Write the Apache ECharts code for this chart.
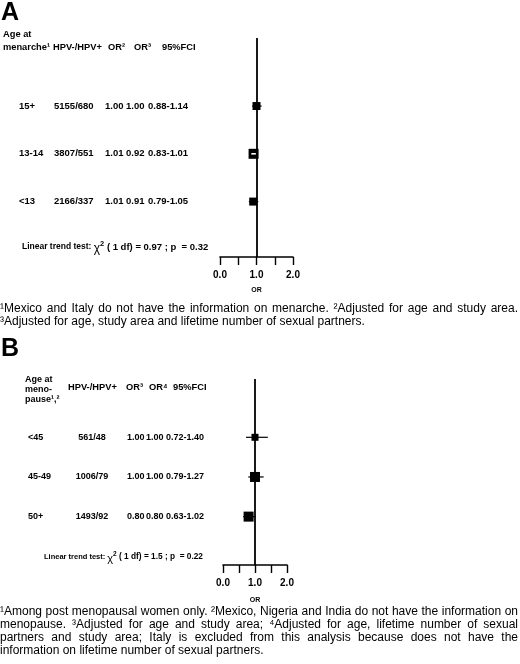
<!DOCTYPE html>
<html>
<head>
<meta charset="utf-8">
<script src="https://cdn.jsdelivr.net/npm/echarts@6/dist/echarts.min.js"></script>
<style>
html,body{margin:0;padding:0;background:#fff;}
#c{width:520px;height:664px;}
</style>
</head>
<body>
<div id="c"></div>
<script>
// ---------------- DATA ----------------
// Panel A: age at menarche
const catsA = ['15+', '13-14', '<13'];
const casesA = ['5155/680', '3807/551', '2166/337'];
const or2A = [1.00, 1.01, 1.01];
const or3A = [1.00, 0.92, 0.91];
const loA = [0.88, 0.83, 0.79];
const hiA = [1.14, 1.01, 1.05];
const trendA = { chi2: '0.97', df: '1', p: '0.32' };

// Panel B: age at menopause
const catsB = ['<45', '45-49', '50+'];
const casesB = ['561/48', '1006/79', '1493/92'];
const or3B = [1.00, 1.00, 0.80];
const or4B = [1.00, 1.00, 0.80];
const loB = [0.72, 0.79, 0.63];
const hiB = [1.40, 1.27, 1.02];
const trendB = { chi2: '1.5', df: '1', p: '0.22' };

// axis tick labels
const tickLabels = [0, 1, 2];
const axisMin = 0, axisMax = 2, tickStep = 0.5;

// ---------------- STYLE / LAYOUT ----------------
const markerSizeA = [8, 10, 8];
const markerSizeB = [7, 10, 10];
const FONT = '"Liberation Sans", Arial, Helvetica, sans-serif';

const chart = echarts.init(document.getElementById('c'), null, { renderer: 'canvas' });

function fmt2(v) { return v.toFixed(2); }

function buildSeriesData(orArr, loArr, hiArr) {
  return orArr.map((v, i) => [i, v, loArr[i], hiArr[i]]);
}

function makeRender(sizes) {
  return function (params, api) {
    const i = api.value(0), or = api.value(1), lo = api.value(2), hi = api.value(3);
    const c = api.coord([or, i]);
    const l = api.coord([lo, i]);
    const h = api.coord([hi, i]);
    const s = sizes[params.dataIndex];
    const half = s / 2;
    const inside = l[0] >= c[0] - half - 0.01 && h[0] <= c[0] + half + 0.01;
    const children = [];
    if (!inside) {
      children.push({ type: 'line', shape: { x1: l[0], y1: l[1], x2: h[0], y2: h[1] }, style: { stroke: '#000', lineWidth: 1.2 } });
    }
    children.push({ type: 'rect', shape: { x: c[0] - half, y: c[1] - half, width: s, height: s }, style: { fill: '#000' } });
    if (inside) {
      children.push({ type: 'line', shape: { x1: l[0] + 1, y1: l[1], x2: h[0] - 1, y2: h[1] }, style: { stroke: '#fff', lineWidth: 1.6 } });
    }
    return { type: 'group', children };
  };
}

function xAxisCfg(gi, nameGap) {
  return {
    gridIndex: gi, type: 'value', min: axisMin, max: axisMax, interval: tickStep,
    position: 'bottom',
    axisLine: { show: true, onZero: false, lineStyle: { color: '#000', width: 1.6 } },
    axisTick: { show: true, inside: false, length: 8, lineStyle: { color: '#000', width: 1.4 } },
    axisLabel: {
      show: true, margin: 13, color: '#000', fontFamily: FONT, fontSize: 10, fontWeight: 'bold',
      showMinLabel: true, showMaxLabel: true, hideOverlap: false,
      formatter: v => tickLabels.indexOf(v) >= 0 ? v.toFixed(1) : ''
    },
    splitLine: { show: false },
    name: 'OR', nameLocation: 'middle', nameGap: nameGap,
    nameTextStyle: { color: '#000', fontFamily: FONT, fontSize: 7, fontWeight: 'bold' }
  };
}

const refLine = {
  symbol: 'none', silent: true, animation: false,
  label: { show: false },
  lineStyle: { color: '#000', width: 1.8, type: 'solid' },
  data: [{ xAxis: 1 }]
};

chart.setOption({
  animation: false,
  backgroundColor: '#fff',
  grid: [
    { left: 220, top: 38, width: 73, height: 219 },
    { left: 223, top: 379, width: 64, height: 186 }
  ],
  xAxis: [xAxisCfg(0, 30), xAxisCfg(1, 32)],
  yAxis: [
    { gridIndex: 0, type: 'value', inverse: true, min: -1.424, max: 3.16, show: false },
    { gridIndex: 1, type: 'value', inverse: true, min: -1.47, max: 3.22, show: false }
  ],
  series: [
    {
      type: 'custom', xAxisIndex: 0, yAxisIndex: 0, silent: true,
      renderItem: makeRender(markerSizeA),
      data: buildSeriesData(or3A, loA, hiA),
      markLine: refLine, z: 3
    },
    {
      type: 'custom', xAxisIndex: 1, yAxisIndex: 1, silent: true,
      renderItem: makeRender(markerSizeB),
      data: buildSeriesData(or4B, loB, hiB),
      markLine: refLine, z: 3
    }
  ]
});

// ---------------- TEXT (table, notes) ----------------
const g = [];
const measureCtx = document.createElement('canvas').getContext('2d');
function fontStr(size, weight) { return (weight || 'normal') + ' ' + size + 'px ' + FONT; }
function txt(x, y, text, size, weight, align) {
  g.push({
    type: 'text', x: x, y: y, silent: true,
    style: {
      text: text, fill: '#000',
      font: fontStr(size, weight),
      textAlign: align || 'left', textVerticalAlign: 'middle',
      align: align || 'left', verticalAlign: 'middle'
    }
  });
}
function rowY(gi, i) { return chart.convertToPixel({ gridIndex: gi }, [1, i])[1]; }

// Panel letters
txt(1, 13, 'A', 25, 'bold');
txt(1, 349, 'B', 25, 'bold');

// Panel A header
const hs = 9.3;
txt(3, 34, 'Age at', hs, 'bold');
txt(3, 47, 'menarche¹', hs, 'bold');
txt(53, 47, 'HPV-/HPV+', hs, 'bold');
txt(108, 47, 'OR²', hs, 'bold');
txt(134, 47, 'OR³', hs, 'bold');
txt(162, 47, '95%FCI', hs, 'bold');

const rsA = 9.5;
catsA.forEach((c, i) => {
  const y = rowY(0, i);
  txt(19, y, c, rsA, 'bold');
  txt(54, y, casesA[i], rsA, 'bold');
  txt(105, y, fmt2(or2A[i]), rsA, 'bold');
  txt(126, y, fmt2(or3A[i]), rsA, 'bold');
  txt(148, y, fmt2(loA[i]) + '-' + fmt2(hiA[i]), rsA, 'bold');
});

// Panel B header
txt(25, 380, 'Age at', 9, 'bold');
txt(25, 390, 'meno-', 9, 'bold');
txt(25, 400, 'pause¹,²', 9, 'bold');
txt(68, 387, 'HPV-/HPV+', hs, 'bold');
txt(126, 387, 'OR³', hs, 'bold');
txt(149, 387, 'OR⁴', hs, 'bold');
txt(173, 387, '95%FCI', hs, 'bold');

const rsB = 9;
catsB.forEach((c, i) => {
  const y = rowY(1, i);
  txt(28, y, c, rsB, 'bold');
  txt(92, y, casesB[i], rsB, 'bold', 'center');
  txt(127, y, fmt2(or3B[i]), rsB, 'bold');
  txt(146, y, fmt2(or4B[i]), rsB, 'bold');
  txt(166, y, fmt2(loB[i]) + '-' + fmt2(hiB[i]), rsB, 'bold');
});

// Linear trend tests
function trend(x, y, t, s1, s2, s3) {
  g.push({
    type: 'text', x: x, y: y, silent: true,
    style: {
      text: '{a|Linear trend test: }{c|χ}{s|2}{b| ( ' + t.df + ' df) = ' + t.chi2 + ' ; p  = ' + t.p + '}',
      fill: '#000', textVerticalAlign: 'middle', verticalAlign: 'middle',
      rich: {
        a: { fontFamily: FONT, fontSize: s1, fontWeight: 'bold', fill: '#000', color: '#000' },
        c: { fontFamily: FONT, fontSize: s2, fill: '#000', color: '#000', padding: [3, 0, 0, 0] },
        s: { fontFamily: FONT, fontSize: s1 - 1, fontWeight: 'bold', fill: '#000', color: '#000', padding: [0, 0, 6, 0] },
        b: { fontFamily: FONT, fontSize: s3, fontWeight: 'bold', fill: '#000', color: '#000' }
      }
    }
  });
}
trend(22, 247, trendA, 8.5, 12, 9.5);
trend(44, 557, trendB, 7.5, 11, 8.3);

// Footnotes (justified)
const NOTE_SIZE = 12;
function noteLine(y, line, justify) {
  if (!justify) { txt(0, y, line, NOTE_SIZE, 'normal'); return; }
  measureCtx.font = fontStr(NOTE_SIZE, 'normal');
  const words = line.split(' ');
  const widths = words.map(w => measureCtx.measureText(w).width);
  const total = widths.reduce((a, b) => a + b, 0);
  const gap = (518 - total) / (words.length - 1);
  let x = 0;
  words.forEach((w, k) => { txt(x, y, w, NOTE_SIZE, 'normal'); x += widths[k] + gap; });
}
noteLine(309, '¹Mexico and Italy do not have the information on menarche. ²Adjusted for age and study area.', true);
noteLine(322, '³Adjusted for age, study area and lifetime number of sexual partners.', false);

noteLine(612, '¹Among post menopausal women only. ²Mexico, Nigeria and India do not have the information on', true);
noteLine(625, 'menopause. ³Adjusted for age and study area; ⁴Adjusted for age, lifetime number of sexual', true);
noteLine(638, 'partners and study area; Italy is excluded from this analysis because does not have the', true);
noteLine(651, 'information on lifetime number of sexual partners.', false);

chart.setOption({ graphic: { elements: g } });
</script>
</body>
</html>
